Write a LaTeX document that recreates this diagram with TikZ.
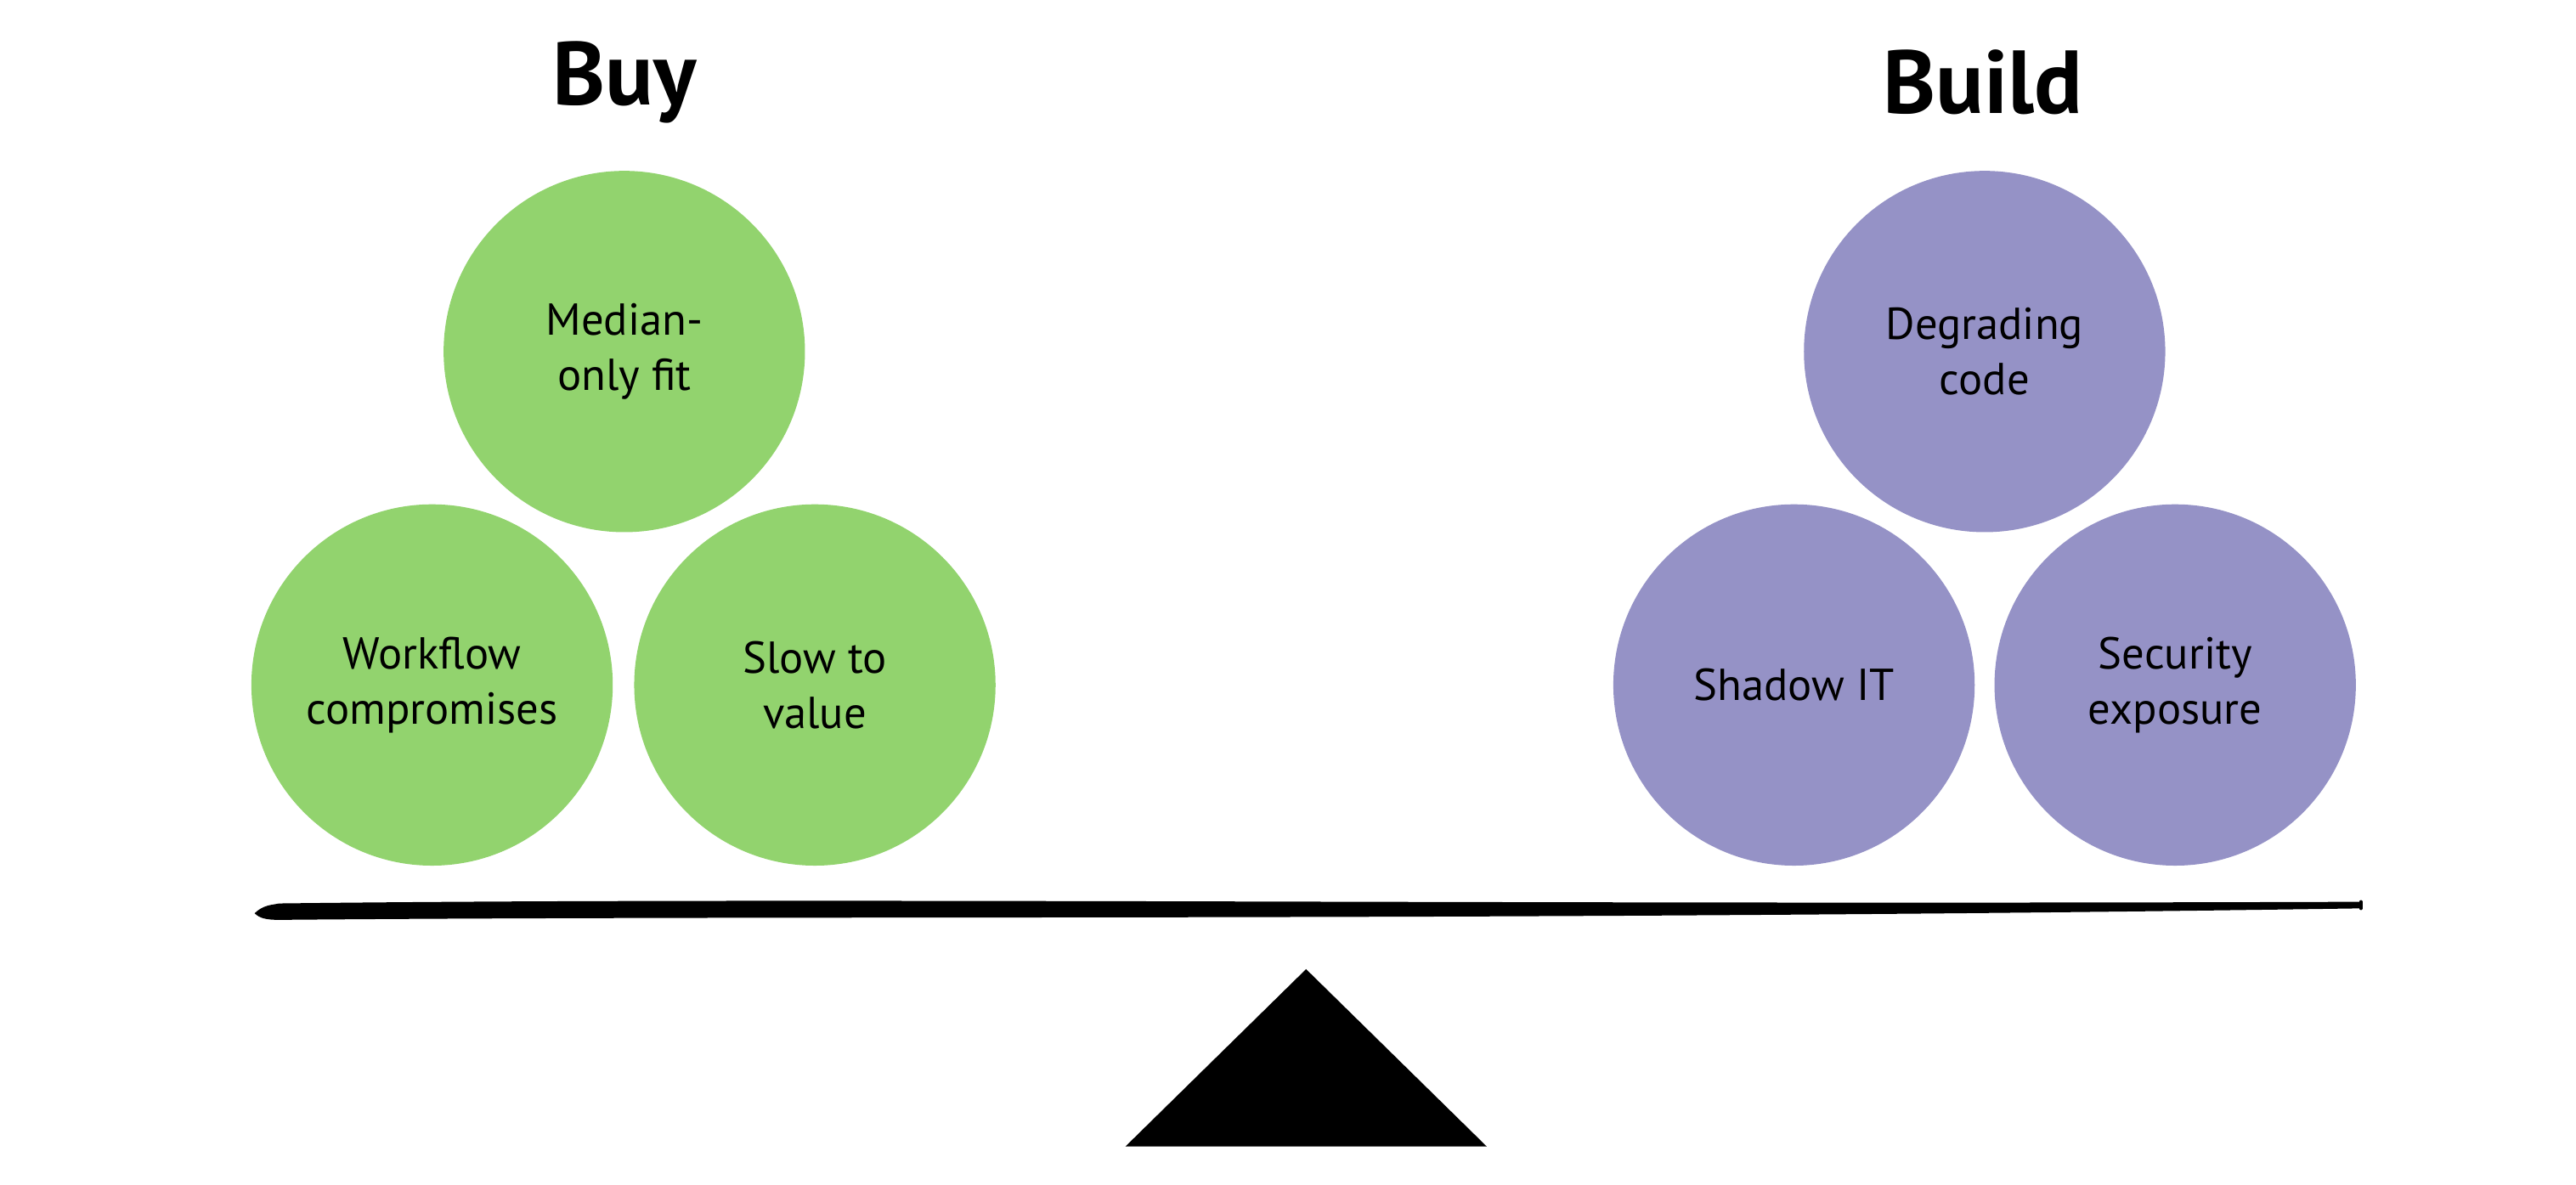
\documentclass[tikz,border=0pt]{standalone}
\usepackage{fontspec}
\setmainfont{PT Sans}
\definecolor{gr}{HTML}{92D36E}
\definecolor{pu}{HTML}{9592C6}
\begin{document}
\begin{tikzpicture}[x=0.02cm,y=-0.02cm,
  ball/.style={circle,minimum size=4.4cm,inner sep=0pt,align=center,font=\fontsize{15.5}{19}\selectfont},
  title/.style={font=\fontsize{31}{36}\selectfont\bfseries}]
\useasboundingbox (0,0) rectangle (1568,721);
\node[title] (buy) at (380,50) {Buy};
\node[title] (build) at (1207,50) {Build};
\node[ball,fill=gr] (m) at (380,214) {Median-\\only fit};
\node[ball,fill=gr] (w) at (263,417) {Workflow\\compromises};
\node[ball,fill=gr] (s) at (496,417) {Slow to\\value};
\node[ball,fill=pu] (d) at (1208,214) {Degrading\\code};
\node[ball,fill=pu] (sh) at (1092,417) {Shadow IT};
\node[ball,fill=pu] (se) at (1324,417) {Security\\exposure};
\fill[black] (155,556) .. controls (160,551) and (165,551) .. (170,550)
  .. controls (500,546) and (900,551) .. (1437,549)
  -- (1437,553) .. controls (900,561) and (500,557) .. (170,560)
  .. controls (162,560) and (158,559) .. cycle;
\draw[line width=1.2pt,line cap=round] (1437,549) -- (1437,553);
\fill[black] (795,590) -- (905,698) -- (685,698) -- cycle;
\end{tikzpicture}
\end{document}
